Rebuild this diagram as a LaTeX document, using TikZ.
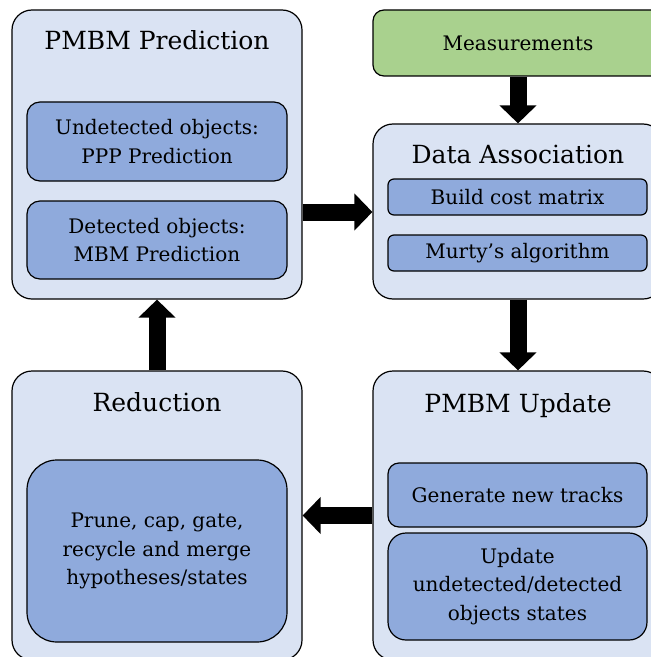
\documentclass[tikz,border=0pt]{standalone}
\usepackage{fontspec}
\setmainfont{DejaVu Serif}
\usetikzlibrary{arrows.meta}

\definecolor{panelblue}{HTML}{DAE3F3}
\definecolor{stepblue}{HTML}{8FAADC}
\definecolor{measgreen}{HTML}{A9D18E}

\newcommand{\titlesize}{\fontsize{25bp}{30bp}\selectfont}
\newcommand{\bodysize}{\fontsize{20bp}{28.5bp}\selectfont}

\tikzset{
  panel/.style={draw=black, line width=1.2bp, fill=panelblue, rounded corners=20bp,
    inner sep=0pt, minimum width=290bp},
  subbox/.style={draw=black, line width=1.2bp, fill=stepblue, inner sep=0pt,
    align=center, font=\bodysize},
  paneltitle/.style={anchor=base, inner sep=0pt, font=\titlesize},
  flow/.style={line width=17bp, -{Triangle[width=36bp,length=18bp]}},
}

\begin{document}
\begin{tikzpicture}[x=1bp, y=-1bp]
  \useasboundingbox (0,0) rectangle (651,657);
  \fill[white] (0,0) rectangle (651,657);
  \clip (0,0) rectangle (651,657);

  % outer panels
  \node[panel, minimum height=289bp] (pred) at (157,154.5) {};
  \node[panel, minimum height=175bp] (assoc) at (518,211.5) {};
  \node[panel, minimum height=289bp] (red) at (157,515.5) {};
  \node[panel, minimum height=289bp] (upd) at (518,515.5) {};
  \node[panel, fill=measgreen, rounded corners=11bp, minimum height=66bp] (meas) at (518,43) {};

  % panel titles
  \node[paneltitle] (predT) at (157,50) {PMBM Prediction};
  \node[paneltitle] (assocT) at (518,163) {Data Association};
  \node[paneltitle] (redT) at (157,411) {Reduction};
  \node[paneltitle] (updT) at (518,412) {PMBM Update};
  \node[anchor=base, inner sep=0pt, font=\bodysize] (measT) at (518,51) {Measurements};

  % inner steps
  \node[subbox, rounded corners=13bp, minimum width=260bp, minimum height=79bp] (ppp) at (157,141.5)
    {Undetected objects:\\PPP Prediction};
  \node[subbox, rounded corners=13bp, minimum width=260bp, minimum height=78bp] (mbm) at (157,240)
    {Detected objects:\\MBM Prediction};
  \node[subbox, rounded corners=6bp, minimum width=259bp, minimum height=36bp] (cost) at (517.5,197)
    {Build cost matrix};
  \node[subbox, rounded corners=6bp, minimum width=259bp, minimum height=36bp] (murty) at (517.5,253)
    {Murty’s algorithm};
  \node[subbox, rounded corners=30bp, minimum width=260bp, minimum height=182bp] (prune) at (157,551)
    {Prune, cap, gate,\\recycle and merge\\hypotheses/states};
  \node[subbox, rounded corners=11bp, minimum width=259bp, minimum height=64bp] (newtr) at (517.5,495)
    {Generate new tracks};
  \node[subbox, rounded corners=18bp, minimum width=259bp, minimum height=107bp] (updst) at (517.5,586.5)
    {Update\\undetected/detected\\objects states};

  % flow arrows
  \draw[flow] (meas.south) -- (assoc.north);
  \draw[flow] (pred.east |- 0,212) -- (assoc.west |- 0,212);
  \draw[flow] (assoc.south) -- (upd.north);
  \draw[flow] (upd.west) -- (red.east);
  \draw[flow] (red.north) -- (pred.south);
\end{tikzpicture}
\end{document}
